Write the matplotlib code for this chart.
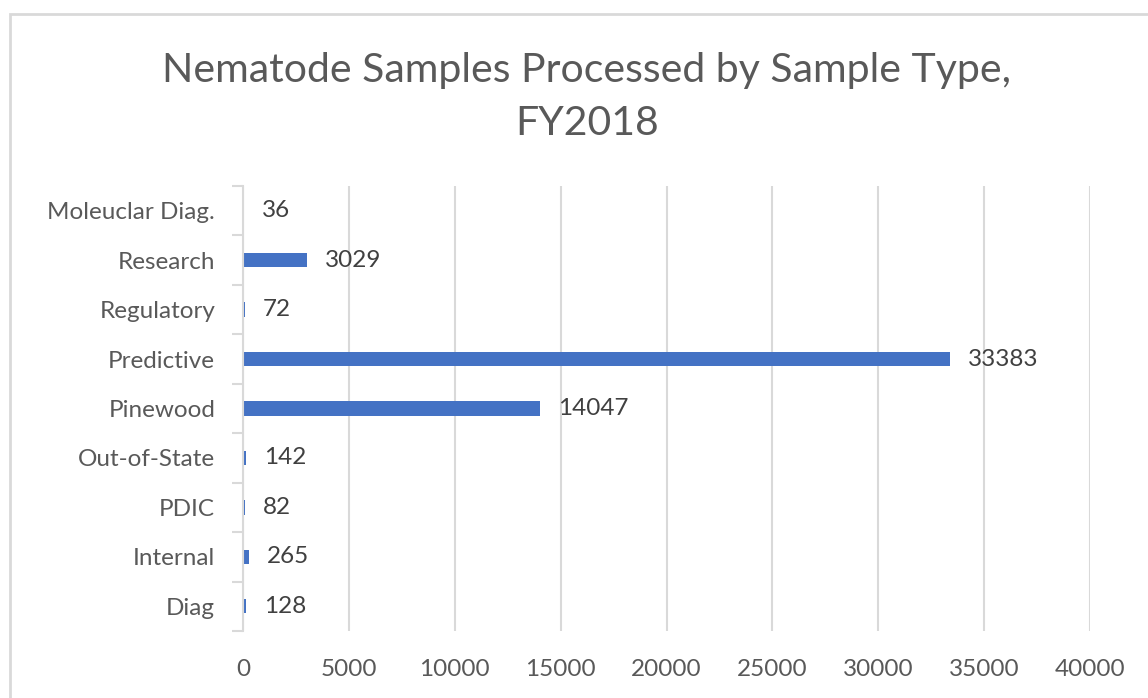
import matplotlib
matplotlib.use("Agg")
import matplotlib.pyplot as plt
from matplotlib.patches import Rectangle
from matplotlib.ticker import FixedLocator

categories = ["Diag", "Internal", "PDIC", "Out-of-State", "Pinewood",
              "Predictive", "Regulatory", "Research", "Moleuclar Diag."]
values = [128, 265, 82, 142, 14047, 33383, 72, 3029, 36]
xticks = [0, 5000, 10000, 15000, 20000, 25000, 30000, 35000, 40000]
title = "Nematode Samples Processed by Sample Type,\nFY2018"

plt.rcParams['font.family'] = ['Lato', 'DejaVu Sans']

W, H = 1148, 698
fig = plt.figure(figsize=(W / 100, H / 100), dpi=100)
fig.patch.set_facecolor("white")

# outer chart frame (only top/left visible in the crop)
fig.patches.append(Rectangle((10 / W, -0.1), 1.2, 1 - 14 / H + 0.1,
                             transform=fig.transFigure, fill=False,
                             edgecolor="#d9d9d9", linewidth=2))

ax = fig.add_axes([243 / W, 1 - 631 / H, (1090 - 243) / W, (631 - 186) / H])
pos = list(range(len(categories)))
ax.barh(pos, values, height=0.29, color="#4472C4", zorder=2)
for p, v in zip(pos, values):
    ax.text(v + 850, p, str(v), va="center", ha="left",
            fontsize=17.5, color="#404040")

ax.set_xlim(0, 40000)
ax.set_ylim(-0.5, len(categories) - 0.5)
ax.set_xticks(xticks)
ax.set_xticklabels([str(t) for t in xticks], fontsize=17.5, color="#595959")
ax.tick_params(axis="x", length=0, pad=20.5)
ax.set_yticks(pos)
ax.set_yticklabels(categories, fontsize=17.5, color="#595959")
ax.tick_params(axis="y", which="major", length=0, pad=20)
ax.yaxis.set_minor_locator(FixedLocator([i - 0.5 for i in range(len(categories) + 1)]))
ax.tick_params(axis="y", which="minor", length=8, width=1.5, color="#d9d9d9")

ax.grid(axis="x", color="#d9d9d9", linewidth=1.5, zorder=0)
for s in ["top", "right", "bottom"]:
    ax.spines[s].set_visible(False)
ax.spines["left"].set_color("#d9d9d9")
ax.spines["left"].set_linewidth(1.5)
ax.spines["left"].set_zorder(3)

fig.text(0.511, 1 - 97 / H, title, ha="center", va="center",
         fontsize=29.5, color="#595959", linespacing=1.52)

fig.savefig("out.png", dpi=100)
